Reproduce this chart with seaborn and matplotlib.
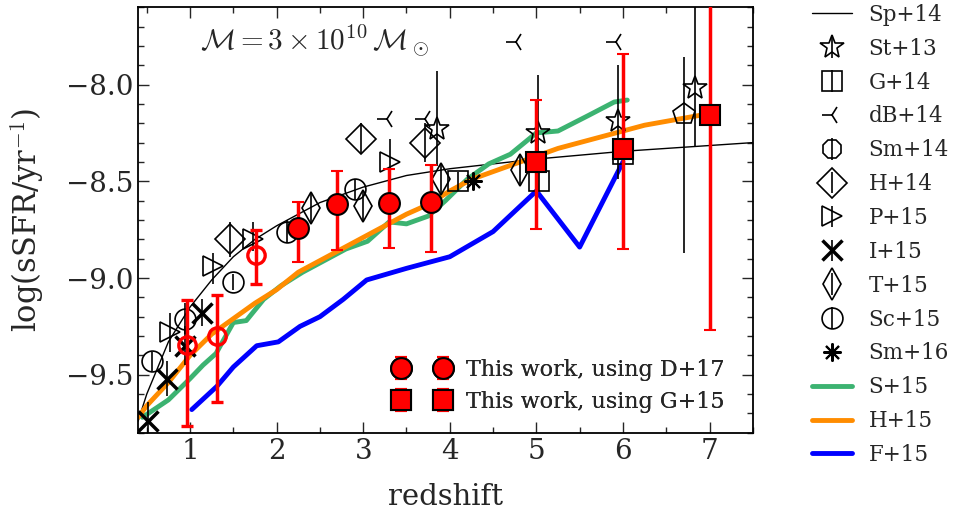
import numpy as np
import pandas as pd
import matplotlib
matplotlib.use("Agg")
import matplotlib.pyplot as plt
import seaborn as sns
from matplotlib.ticker import MultipleLocator

# --- model tracks ---
sp14_z = [0.4, 0.5, 0.75, 1.0, 1.25, 1.5, 1.75, 2.0, 2.5, 3.0, 3.5, 4.0, 4.5, 5.0, 5.5, 6.0, 6.5, 7.0, 7.5]
sp14_y = [-9.74, -9.60, -9.33, -9.15, -9.01, -8.89, -8.80, -8.73, -8.61, -8.53, -8.47, -8.435,
          -8.41, -8.385, -8.365, -8.345, -8.33, -8.315, -8.30]

s15_z = [0.45, 0.75, 1.0, 1.15, 1.3, 1.5, 1.65, 1.85, 2.05, 2.3, 2.55, 2.8, 3.05, 3.3, 3.5,
         3.75, 3.95, 4.2, 4.45, 4.7, 5.0, 5.25, 5.6, 5.9, 6.05]
s15_y = [-9.72, -9.63, -9.52, -9.45, -9.39, -9.23, -9.22, -9.11, -9.04, -8.97, -8.91, -8.85,
         -8.81, -8.71, -8.72, -8.68, -8.60, -8.49, -8.41, -8.36, -8.25, -8.24, -8.16, -8.09, -8.08]

h15_z = [0.4, 0.5, 0.75, 1.0, 1.25, 1.5, 1.75, 2.0, 2.25, 2.5, 2.75, 3.0, 3.25, 3.5, 3.75,
         4.0, 4.25, 4.5, 4.75, 5.0, 5.25, 5.5, 5.75, 6.0, 6.25, 6.5, 6.75, 7.0]
h15_y = [-9.72, -9.66, -9.54, -9.40, -9.29, -9.21, -9.13, -9.06, -8.97, -8.91, -8.85, -8.79,
         -8.73, -8.67, -8.62, -8.55, -8.49, -8.45, -8.41, -8.37, -8.33, -8.30, -8.27, -8.24,
         -8.21, -8.19, -8.17, -8.15]

f15_z = [1.02, 1.31, 1.50, 1.77, 2.02, 2.27, 2.50, 2.77, 3.04, 3.5, 4.0, 4.5, 5.0, 5.5, 6.0]
f15_y = [-9.68, -9.56, -9.46, -9.35, -9.33, -9.25, -9.20, -9.11, -9.01, -8.95, -8.89, -8.76,
         -8.55, -8.84, -8.40]

# --- literature points ---
st13_z = [3.85, 5.02, 5.94, 6.83]
st13_y = [-8.23, -8.25, -8.19, -8.02]
st13_lo = [0.19, 0.30, 0.30, 0.30]
st13_hi = [0.30, 0.30, 0.29, 0.45]

g14_z = [4.09, 5.03, 6.0]
g14_y = [-8.50, -8.50, -8.36]

db14_z = [3.27, 3.71, 4.77, 5.92]
db14_y = [-8.18, -8.18, -7.78, -7.78]

h14_z = [1.46, 2.98, 3.71]
h14_y = [-8.80, -8.28, -8.30]
h14_err = [0.09, 0.08, 0.10]

p15_z = [0.77, 1.27, 1.73, 3.31]
p15_y = [-9.28, -8.94, -8.80, -8.40]
p15_lo = [0.10, 0.09, 0.06, 0.04]
p15_hi = [0.10, 0.07, 0.09, 0.12]

i15_z = [0.52, 0.73, 0.94, 1.135]
i15_y = [-9.74, -9.52, -9.35, -9.18]
i15_err = [0.10, 0.09, 0.10, 0.07]

t15_z = [2.40, 3.0, 3.9, 4.81]
t15_y = [-8.64, -8.63, -8.49, -8.44]
t15_err = [0.08, 0.08, 0.08, 0.08]

sc15_z = [0.56, 0.94, 1.5, 2.12, 2.90]
sc15_y = [-9.43, -9.21, -9.02, -8.76, -8.54]
sc15_err = [0.05, 0.08, 0.04, 0.06, 0.05]

sm16_z = [4.27]
sm16_y = [-8.50]

pent_z = [6.7]
pent_y = [-8.15]
pent_lo = [0.72]
pent_hi = [0.29]

# --- this work ---
d17_z = [2.25, 2.70, 3.30, 3.78]
d17_y = [-8.74, -8.615, -8.61, -8.605]
d17_lo = [0.175, 0.24, 0.235, 0.26]
d17_hi = [0.135, 0.17, 0.175, 0.19]

low_z = [0.97, 1.31, 1.76]
low_y = [-9.345, -9.30, -8.88]
low_lo = [0.42, 0.34, 0.15]
low_hi = [0.23, 0.21, 0.13]

g15_z = [5.0, 6.0, 7.0]
g15_y = [-8.40, -8.335, -8.155]
g15_lo = [0.345, 0.515, 1.115]
g15_hi = [0.32, 0.495, 1.115]

sns.set_style("ticks")
plt.rcParams['font.family'] = ['DejaVu Serif']
plt.rcParams['mathtext.fontset'] = 'cm'
plt.rcParams['xtick.direction'] = 'in'
plt.rcParams['ytick.direction'] = 'in'

fig = plt.figure(figsize=(9.59, 5.14), dpi=100)
ax = fig.add_axes([0.144, 0.158, 0.641, 0.828])

# model lines
sns.lineplot(x=sp14_z, y=sp14_y, color='black', lw=1.0, ax=ax, legend=False, zorder=2)
h_sp = ax.lines[-1]
sns.lineplot(x=s15_z, y=s15_y, color='mediumseagreen', lw=3.5, ax=ax, legend=False, zorder=2)
h_s15 = ax.lines[-1]
sns.lineplot(x=h15_z, y=h15_y, color='darkorange', lw=3.5, ax=ax, legend=False, zorder=2)
h_h15 = ax.lines[-1]
sns.lineplot(x=f15_z, y=f15_y, color='blue', lw=3.5, ax=ax, legend=False, zorder=2)
h_f15 = ax.lines[-1]

open_kw = dict(ls='none', color='black', mfc='none', mec='black', elinewidth=1.2, capsize=0, zorder=3)

h_st = ax.errorbar(st13_z, st13_y, yerr=[st13_lo, st13_hi], fmt='*', ms=18, mew=1.2, **open_kw)
h_g = ax.errorbar(g14_z, g14_y, yerr=[[0.05] * 3, [0.05] * 3], fmt='s', ms=15, mew=1.2, **open_kw)
h_db = ax.errorbar(db14_z, db14_y, fmt='3', ms=15, mew=1.2, **open_kw)
h_sm14 = ax.errorbar([], [], yerr=[], fmt='8', ms=14, mew=1.2, **open_kw)
h_h = ax.errorbar(h14_z, h14_y, yerr=h14_err, fmt='D', ms=15, mew=1.2, **open_kw)
h_p = ax.errorbar(p15_z, p15_y, yerr=[p15_lo, p15_hi], fmt='>', ms=14, mew=1.2, **open_kw)
h_i = ax.errorbar(i15_z, i15_y, yerr=i15_err, fmt='x', ms=15, mew=2.5, **open_kw)
h_t = ax.errorbar(t15_z, t15_y, yerr=t15_err, fmt='d', ms=16, mew=1.2, **open_kw)
h_sc = ax.errorbar(sc15_z, sc15_y, yerr=sc15_err, fmt='o', ms=15, mew=1.2, **open_kw)
ax.plot(sm16_z, sm16_y, ls='none', marker=(8, 2, 0), ms=13, mew=1.5, color='black', zorder=3)
h_sm16_leg = plt.Line2D([], [], ls='none', marker=(8, 2, 0), ms=13, mew=1.5, color='black')
ax.errorbar(pent_z, pent_y, yerr=[pent_lo, pent_hi], fmt='p', ms=16, mew=1.2, **open_kw)

# this work
red_kw = dict(ls='none', ecolor='red', elinewidth=2.5, capsize=4, capthick=2, zorder=5)
h_d17 = ax.errorbar(d17_z, d17_y, yerr=[d17_lo, d17_hi], fmt='o', ms=15, mfc='red', mec='black',
                    mew=1.5, **red_kw)
ax.errorbar(low_z, low_y, yerr=[low_lo, low_hi], fmt='o', ms=12.5, mfc='none', mec='red', mew=2.4, **red_kw)
h_g15 = ax.errorbar(g15_z, g15_y, yerr=[g15_lo, g15_hi], fmt='s', ms=14.5, mfc='red', mec='black',
                    mew=1.5, **red_kw)

ax.set_xlim(0.4, 7.5)
ax.set_ylim(-9.8, -7.6)
ax.xaxis.set_major_locator(MultipleLocator(1))
ax.xaxis.set_minor_locator(MultipleLocator(0.5))
ax.yaxis.set_major_locator(MultipleLocator(0.5))
ax.yaxis.set_minor_locator(MultipleLocator(0.1))
ax.tick_params(which='both', top=True, right=True, direction='in', width=1, labelsize=20)
ax.tick_params(which='major', length=8)
ax.tick_params(which='minor', length=4)
for s in ax.spines.values():
    s.set_linewidth(1.3)
    s.set_color('black')

ax.set_xlabel('redshift', fontsize=21, labelpad=13)
ax.set_ylabel(r'log(sSFR/yr$^{-1}$)', fontsize=22, labelpad=14)
ax.text(0.10, 0.922, r'$\mathcal{M} = 3\times10^{10}\,\mathcal{M}_\odot$', transform=ax.transAxes,
        fontsize=21, ha='left', va='center')

leg_in = ax.legend([h_d17, h_g15], ['This work, using D+17', 'This work, using G+15'],
                   loc='lower right', bbox_to_anchor=(0.975, 0.015), frameon=False, fontsize=16,
                   numpoints=2, handlelength=2.5, handletextpad=0.7, borderaxespad=0.2,
                   labelspacing=0.45)
ax.add_artist(leg_in)

handles = [h_sp, h_st, h_g, h_db, h_sm14, h_h, h_p, h_i, h_t, h_sc, h_sm16_leg, h_s15, h_h15, h_f15]
labels = ['Sp+14', 'St+13', 'G+14', 'dB+14', 'Sm+14', 'H+14', 'P+15', 'I+15', 'T+15', 'Sc+15',
          'Sm+16', 'S+15', 'H+15', 'F+15']
fig.legend(handles, labels, loc='upper left', bbox_to_anchor=(0.826, 1.03), frameon=False,
           fontsize=15.5, handlelength=1.9, handletextpad=0.75, labelspacing=0.55, numpoints=1)

fig.savefig('out.png', dpi=100)
